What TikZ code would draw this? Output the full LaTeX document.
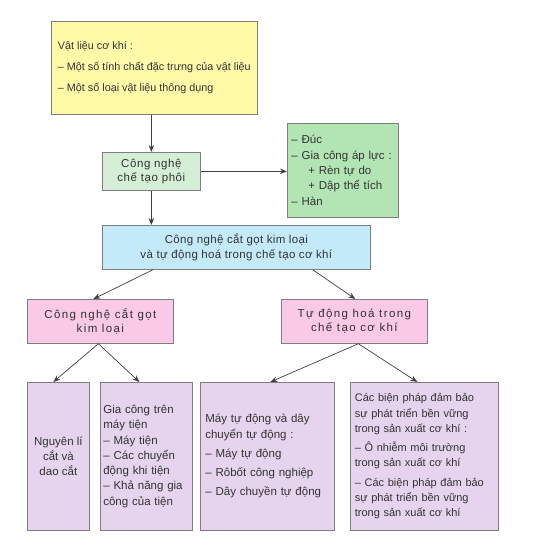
\documentclass[tikz,border=0pt]{standalone}
\usepackage{fontspec}
\setmainfont{Liberation Sans}
\usetikzlibrary{arrows.meta, positioning}

\definecolor{boxline}{HTML}{7F7F7F}
\definecolor{textcol}{HTML}{333333}
\definecolor{matfill}{HTML}{FFF9A8}
\definecolor{phoifill}{HTML}{D4EFD6}
\definecolor{methfill}{HTML}{B3E4B4}
\definecolor{topicfill}{HTML}{C4EAFA}
\definecolor{branchfill}{HTML}{F9C9E6}
\definecolor{leaffill}{HTML}{E6D4EE}

\newcommand{\jline}[1]{\makebox[\linewidth][s]{#1}}

\begin{document}
\begin{tikzpicture}[
    x=1pt, y=-1pt,
    every node/.style={font=\fontsize{11.5}{15.3}\selectfont, text=textcol},
    box/.style={rectangle, draw=boxline, line width=0.7pt, anchor=north west, inner sep=0pt},
    material/.style={box, fill=matfill, minimum width=206pt, minimum height=93pt, align=left,
      font=\fontsize{10.8}{15}\selectfont},
    phoi/.style={box, fill=phoifill, minimum width=98pt, minimum height=38pt, align=center,
      font=\fontsize{11.5}{14.5}\selectfont\addfontfeature{LetterSpace=5}},
    method/.style={box, fill=methfill, minimum width=111pt, minimum height=94pt, text width=103pt, align=left},
    topic/.style={box, fill=topicfill, minimum width=268pt, minimum height=44pt, align=center,
      font=\fontsize{11.5}{15}\selectfont\addfontfeature{LetterSpace=3}},
    branch/.style={box, fill=branchfill, minimum width=146pt, minimum height=44pt, align=center,
      font=\fontsize{11.5}{14.5}\selectfont\addfontfeature{LetterSpace=12}},
    leaf/.style={box, fill=leaffill, minimum height=148pt},
    arr/.style={-{Stealth[length=7pt, width=5.5pt]}, line width=0.7pt, draw=black!75}
]
\useasboundingbox (0,0) rectangle (548,549);

% Top: materials -> blank making
\node[material] (vatlieu) at (51,21) {Vật liệu cơ khí :\\[6pt]
  – Một số tính chất đặc trưng của vật liệu\\[6pt]
  – Một số loại vật liệu thông dụng};
\node[phoi] (phoi) at (102,152) {Công nghệ\\chế tạo phôi};
\node[method] (ppphoi) at (287,123) {– Đúc\\
  – Gia công áp lực :\\
  \hspace*{17pt}+ Rèn tự do\\
  \hspace*{17pt}+ Dập thể tích\\
  – Hàn};

% Middle: main topic and its two branches
\node[topic] (chude) at (102,225) {Công nghệ cắt gọt kim loại\\và tự động hoá trong chế tạo cơ khí};
\node[branch] (catgot) at (27,299) {Công nghệ cắt gọt\\kim loại};
\node[branch] (tudong) at (281,299) {Tự động hoá trong\\chế tạo cơ khí};

% Bottom: leaves
\node[leaf, minimum width=62pt, align=center] (nguyenli) at (27,382) {Nguyên lí\\cắt và\\dao cắt};
\node[leaf, minimum width=92pt, text width=86pt, align=left] (maytien) at (100,382) {Gia công trên\\máy tiện\\
  – Máy tiện\\– Các chuyển\\động khi tiện\\– Khả năng gia\\công của tiện};
\node[leaf, minimum width=134pt, text width=124pt, align=left] (maytd) at (200,382) {Máy tự động và dây\\chuyển tự động :\\[4pt]
  – Máy tự động\\[4pt]
  – Rôbốt công nghiệp\\[4pt]
  – Dây chuyền tự động};
\node[leaf, minimum width=148pt, text width=139pt, align=left,
  font=\fontsize{11}{15.3}\selectfont] (bienphap) at (350,382) {\jline{Các biện pháp đảm bảo}\\
  \jline{sự phát triển bền vững}\\
  trong sản xuất cơ khí :\\[4pt]
  \jline{– Ô nhiễm môi trường}\\
  trong sản xuất cơ khí\\[4pt]
  \jline{– Các biện pháp đảm bảo}\\
  \jline{sự phát triển bền vững}\\
  trong sản xuất cơ khí};

% Arrows
\draw[arr] (vatlieu.south -| phoi.north) -- (phoi.north);
\draw[arr] (phoi.east) -- (phoi.east -| ppphoi.west);
\draw[arr] (phoi.south) -- (chude.north -| phoi.south);
\draw[arr] ([xshift=51pt]chude.south west) -- ([xshift=-7pt]catgot.north);
\draw[arr] ([xshift=-58pt]chude.south east) -- ([xshift=1pt]tudong.north);
\draw[arr] ([xshift=-2pt]catgot.south) -- ([xshift=-5pt]nguyenli.north);
\draw[arr] ([xshift=-2pt]catgot.south) -- ([xshift=-7pt]maytien.north);
\draw[arr] ([xshift=4pt]tudong.south) -- ([xshift=3pt]maytd.north);
\draw[arr] ([xshift=4pt]tudong.south) -- ([xshift=-7pt]bienphap.north);

\end{tikzpicture}
\end{document}
